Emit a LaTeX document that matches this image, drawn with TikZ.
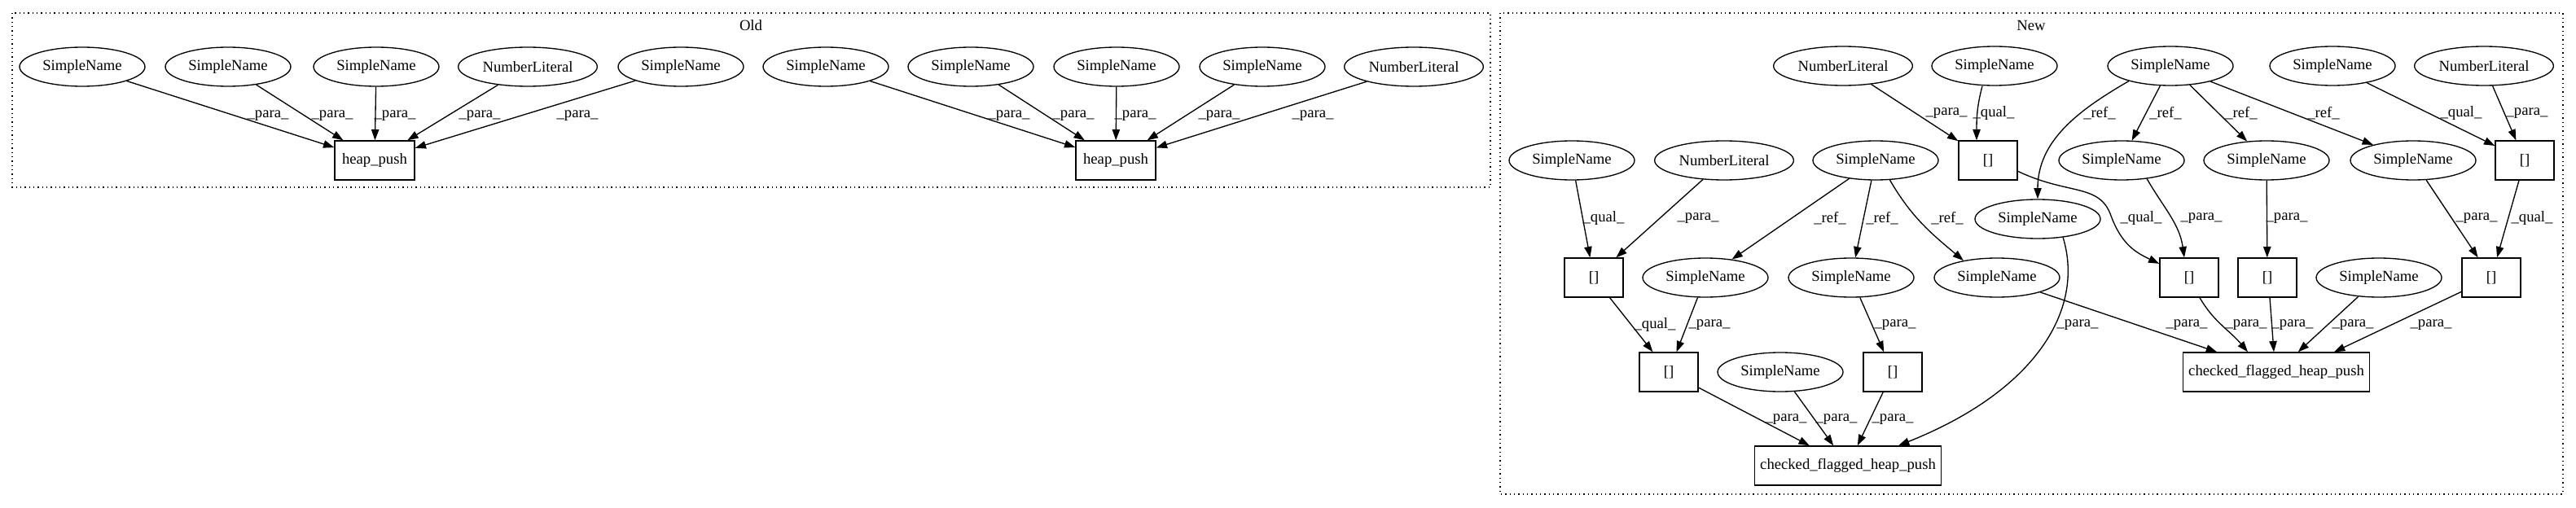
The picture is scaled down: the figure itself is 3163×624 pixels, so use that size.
\documentclass[tikz,border=0pt]{standalone}
\usepackage{fontspec}
\setmainfont{Liberation Serif}
\usetikzlibrary{shapes.geometric,arrows.meta,calc}
\begin{document}
\begin{tikzpicture}[x=0.75pt,y=-0.75pt,
  every node/.style={font=\fontsize{14pt}{16pt}\selectfont},
  sn/.style={draw,ellipse,inner sep=0pt,minimum width=115.5pt,minimum height=36pt,line width=1pt},
  nl/.style={sn,minimum width=128pt},
  box/.style={draw,rectangle,inner sep=0pt,minimum width=54pt,minimum height=36pt,line width=1pt},
  edge/.style={line width=1pt,-{Triangle[length=10pt,width=7pt]}},
  lbl/.style={inner sep=0pt},
  cluster/.style={line width=1pt,dash pattern=on 1pt off 3pt},
]
\useasboundingbox (0,0) rectangle (3163,624);
% clusters
\draw[cluster] (15,16) rectangle (1830,230);
\draw[cluster] (1842,16) rectangle (3147,607);
\node (told) at (922,31) {Old};
\node (tnew) at (2494,31) {New};

% ---------- Old ----------
\node[sn] (o1) at (101,82) {SimpleName};
\node[sn] (o2) at (280,82) {SimpleName};
\node[sn] (o3) at (462,82) {SimpleName};
\node[nl] (o4) at (648,82) {NumberLiteral};
\node[sn] (o5) at (836,82) {SimpleName};
\node[box,minimum width=73.5pt] (h1) at (460,197) {heap\_push};
\node[sn] (o6) at (1014,82) {SimpleName};
\node[sn] (o7) at (1192,82) {SimpleName};
\node[sn] (o8) at (1371,82) {SimpleName};
\node[sn] (o9) at (1550,82) {SimpleName};
\node[nl] (o10) at (1736,82) {NumberLiteral};
\node[box,minimum width=73.5pt] (h2) at (1370,197) {heap\_push};

\draw[edge] (o1) -- (h1) node[lbl] at (329,142) {\_para\_};
\draw[edge] (o2) -- (h1) node[lbl] at (408,142) {\_para\_};
\draw[edge] (o3) -- (h1) node[lbl] at (485,142) {\_para\_};
\draw[edge] (o4) -- (h1) node[lbl] at (589,142) {\_para\_};
\draw[edge] (o5) -- (h1) node[lbl] at (709,142) {\_para\_};
\draw[edge] (o6) -- (h2) node[lbl] at (1239,142) {\_para\_};
\draw[edge] (o7) -- (h2) node[lbl] at (1318,142) {\_para\_};
\draw[edge] (o8) -- (h2) node[lbl] at (1394,142) {\_para\_};
\draw[edge] (o9) -- (h2) node[lbl] at (1497,142) {\_para\_};
\draw[edge] (o10) -- (h2) node[lbl] at (1612,142) {\_para\_};

% ---------- New ----------
\node[nl] (NLa) at (2263,81) {NumberLiteral};
\node[sn] (Sa) at (2449,81) {SimpleName};
\node[sn] (Sh2) at (2665,81) {SimpleName};
\node[sn] (Se) at (2864,81) {SimpleName};
\node[nl] (NLc) at (3050,81) {NumberLiteral};

\node[sn] (Sb) at (1930,197) {SimpleName};
\node[nl] (NLb) at (2117,197) {NumberLiteral};
\node[sn] (Sc) at (2303,197) {SimpleName};
\node[box] (Ba) at (2441,197) {[]};
\node[sn] (Sf) at (2605,197) {SimpleName};
\node[sn] (Sg) at (2783,197) {SimpleName};
\node[sn] (Sh) at (2963,197) {SimpleName};
\node[box] (Bb) at (3100,197) {[]};

\node[sn] (Sd) at (2502,269) {SimpleName};

\node[box] (Bc) at (1957,341) {[]};
\node[sn] (Si) at (2094,341) {SimpleName};
\node[sn] (Sj) at (2273,341) {SimpleName};
\node[sn] (Sk) at (2452,341) {SimpleName};
\node[box] (Bf) at (2688,341) {[]};
\node[box] (Bg) at (2784,341) {[]};
\node[sn] (Sm) at (2921,341) {SimpleName};
\node[box] (Bh) at (3059,341) {[]};

\node[box] (Bd) at (2049,457) {[]};
\node[sn] (Sl) at (2186,457) {SimpleName};
\node[box] (Be) at (2324,457) {[]};
\node[box,minimum width=172pt] (CF2) at (2795,457) {checked\_flagged\_heap\_push};

\node[box,minimum width=172pt] (CF1) at (2269,572) {checked\_flagged\_heap\_push};

% edges top
\draw[edge] (NLa) -- (Ba) node[lbl] at (2390,139) {\_para\_};
\draw[edge] ($(Sa.south)+(-15,0)$) to[out=-105,in=90] ($(Ba.north)+(-14,0)$) node[lbl] at (2448,139) {\_qual\_};
\draw[edge] (Sh2.200) to[out=210,in=90] (Sd.north) node[lbl] at (2578,139) {\_ref\_};
\draw[edge] (Sh2) -- (Sf) node[lbl] at (2659,139) {\_ref\_};
\draw[edge] (Sh2) -- (Sg) node[lbl] at (2752,139) {\_ref\_};
\draw[edge] (Sh2) -- (Sh) node[lbl] at (2853,139) {\_ref\_};
\draw[edge] (Se) -- (Bb) node[lbl] at (3022,139) {\_qual\_};
\draw[edge] (NLc) -- (Bb) node[lbl] at (3103,139) {\_para\_};

% edges row 2 -> row 3
\draw[edge] (Sb) -- (Bc) node[lbl] at (1969,268) {\_qual\_};
\draw[edge] (NLb) -- (Bc) node[lbl] at (2085,268) {\_para\_};
\draw[edge] (Sc) -- (Si) node[lbl] at (2247,268) {\_ref\_};
\draw[edge] (Sc) -- (Sj) node[lbl] at (2311,268) {\_ref\_};
\draw[edge] (Sc.-54) to[out=-60,in=140] (Sk.153) node[lbl] at (2391,268) {\_ref\_};
\draw[edge] (Ba.-20) .. controls (2540,240) and (2578,225) .. (2592,265) .. controls (2605,300) and (2622,310) .. (Bf.155) node[lbl] at (2629,268) {\_qual\_};
\draw[edge] (Sf.-36) to[out=-60,in=98] ($(Bf.north)+(-6,0)$) node[lbl] at (2703,268) {\_para\_};
\draw[edge] (Sg) -- (Bg) node[lbl] at (2808,268) {\_para\_};
\draw[edge] (Sh) -- (Bh) node[lbl] at (3041,268) {\_para\_};
\draw[edge] (Bb) -- (Bh) node[lbl] at (3109,268) {\_qual\_};

% edges row 3 -> row 4
\draw[edge] (Bc) -- (Bd) node[lbl] at (2032,399) {\_qual\_};
\draw[edge] (Si) -- (Bd) node[lbl] at (2099,399) {\_para\_};
\draw[edge] (Sj) -- (Be) node[lbl] at (2327,399) {\_para\_};
\draw[edge] (Sd.-36) .. controls (2560,380) and (2500,480) .. ($(CF1.north)+(62,0)$) node[lbl] at (2551,399) {\_para\_};
\draw[edge] (Sk) -- (CF2) node[lbl] at (2685,399) {\_para\_};
\draw[edge] ($(Bf.south)+(13,0)$) to[out=-60,in=130] ($(CF2.north)+(-35,0)$) node[lbl] at (2758,399) {\_para\_};
\draw[edge] ($(Bg.south)+(3,0)$) -- ($(CF2.north)+(-3,0)$) node[lbl] at (2815,399) {\_para\_};
\draw[edge] (Sm) -- (CF2) node[lbl] at (2889,399) {\_para\_};
\draw[edge] (Bh) -- ($(CF2.north)+(71,0)$) node[lbl] at (2985,399) {\_para\_};

% edges row 4 -> CF1
\draw[edge] (Bd) -- (CF1) node[lbl] at (2193,515) {\_para\_};
\draw[edge] (Sl) -- (CF1) node[lbl] at (2255,515) {\_para\_};
\draw[edge] (Be) -- (CF1) node[lbl] at (2324,515) {\_para\_};
\end{tikzpicture}
\end{document}
